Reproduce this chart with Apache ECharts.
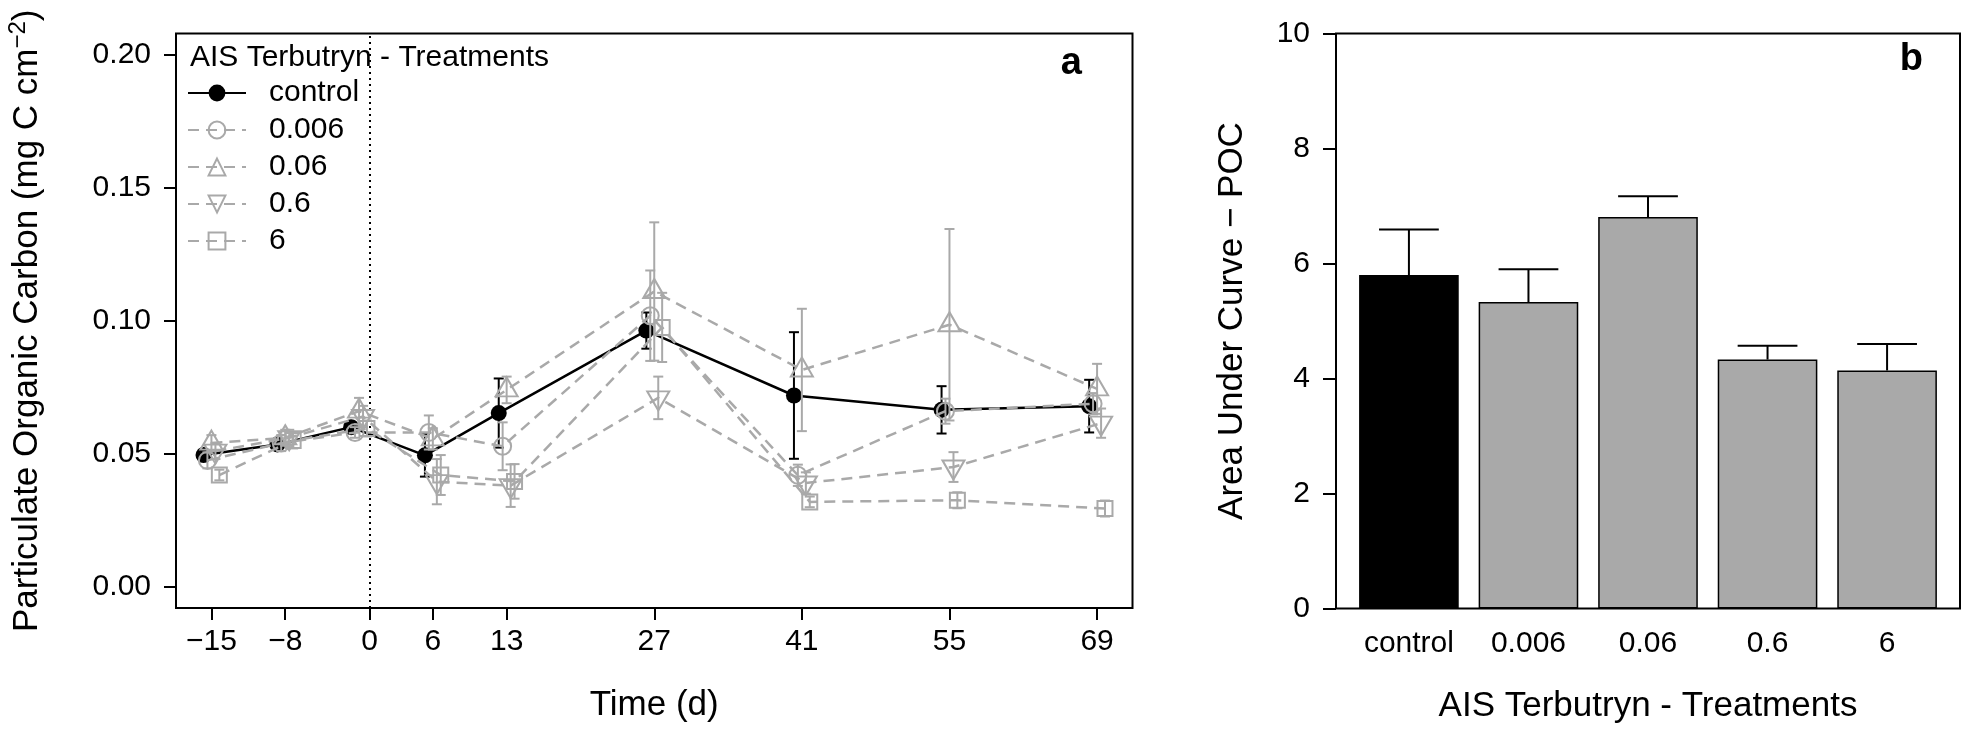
<!DOCTYPE html>
<html><head><meta charset="utf-8">
<script src="https://cdn.jsdelivr.net/npm/echarts@6/dist/echarts.min.js"></script>
<style>html,body{margin:0;padding:0;background:#fff}#c{width:1961px;height:732px}</style>
</head><body><div id="c"></div>
<script>
// ---------- data: panel a (POC over time) ----------
const tickDays   = [-15, -8, 0, 6, 13, 27, 41, 55, 69];
const sampleDays = [-15, -8, -1, 6, 13, 27, 41, 55, 69];
const treatments = ['control', '0.006', '0.06', '0.6', '6'];

const controlMean = [0.0495, 0.0535, 0.0600, 0.0494, 0.0653, 0.0963, 0.0719, 0.0665, 0.0679];
const controlSE   = [0.0020, 0.0020, 0.0020, 0.0080, 0.0130, 0.0068, 0.0238, 0.0089, 0.0099];
const t0006Mean   = [0.0475, 0.0540, 0.0580, 0.0580, 0.0528, 0.1019, 0.0419, 0.0660, 0.0688];
const t0006SE     = [0.0030, 0.0030, 0.0020, 0.0064, 0.0090, 0.0170, 0.0040, 0.0047, 0.0040];
const t006Mean    = [0.0540, 0.0560, 0.0660, 0.0556, 0.0740, 0.1110, 0.0815, 0.0985, 0.0744];
const t006SE      = [0.0030, 0.0030, 0.0050, 0.0040, 0.0050, 0.0260, 0.0230, 0.0360, 0.0094];
const t06Mean     = [0.0510, 0.0560, 0.0640, 0.0395, 0.0380, 0.0710, 0.0390, 0.0450, 0.0615];
const t06SE       = [0.0030, 0.0030, 0.0040, 0.0085, 0.0080, 0.0080, 0.0040, 0.0056, 0.0055];
const t6Mean      = [0.0420, 0.0550, 0.0595, 0.0420, 0.0396, 0.0975, 0.0319, 0.0325, 0.0294];
const t6SE        = [0.0020, 0.0030, 0.0030, 0.0075, 0.0065, 0.0130, 0.0020, 0.0030, 0.0030];
const yTicksA     = [0, 0.05, 0.10, 0.15, 0.20];

// ---------- data: panel b (area under curve) ----------
const aucCategories = ['control', '0.006', '0.06', '0.6', '6'];
const aucMean       = [5.80, 5.33, 6.81, 4.33, 4.14];
const aucSE         = [0.79, 0.57, 0.36, 0.24, 0.46];
const yTicksB       = [0, 2, 4, 6, 8, 10];

// ---------- styles ----------
const FONT = '"Liberation Sans", Arial, Helvetica, sans-serif';
const GRAY = '#a9a9a9';
const means = [controlMean, t0006Mean, t006Mean, t06Mean, t6Mean];
const ses   = [controlSE, t0006SE, t006SE, t06SE, t6SE];
const dodge = [-0.75, -0.38, 0, 0.38, 0.75];
const look = [
  {color:'#000', symbol:'circle',   size:16,      rotate:0,   offset:[0,0],  fill:'#000', line:'solid', lw:2.5},
  {color:GRAY,  symbol:'circle',   size:17,      rotate:0,   offset:[0,0],  fill:'rgba(0,0,0,0)', line:[11,7], lw:2.5},
  {color:GRAY,  symbol:'triangle', size:[22,19], rotate:0,   offset:[0,-3], fill:'rgba(0,0,0,0)', line:[11,7], lw:2.5},
  {color:GRAY,  symbol:'triangle', size:[22,19], rotate:180, offset:[0,3],  fill:'rgba(0,0,0,0)', line:[11,7], lw:2.5},
  {color:GRAY,  symbol:'rect',     size:15,      rotate:0,   offset:[0,0],  fill:'rgba(0,0,0,0)', line:[11,7], lw:2.5}
];

// panel b geometry (bar layout in barplot units)
const BX_MIN = -0.032, BX_MAX = 6.232, GRID_B_W = 624;
const barPos = aucCategories.map((_, i) => 0.7 + 1.2 * i);
const BAR_PX = GRID_B_W / (BX_MAX - BX_MIN);

function errRender(color, capHalf, upOnly) {
  return function (params, api) {
    const x = api.value(0);
    const lo = api.coord([x, api.value(1)]);
    const hi = api.coord([x, api.value(2)]);
    const st = {stroke: color, lineWidth: 2};
    const ch = typeof capHalf === 'function' ? capHalf() : capHalf;
    const kids = [
      {type:'line', shape:{x1:lo[0], y1:lo[1], x2:hi[0], y2:hi[1]}, style:st},
      {type:'line', shape:{x1:hi[0]-ch, y1:hi[1], x2:hi[0]+ch, y2:hi[1]}, style:st}
    ];
    if (!upOnly) kids.push({type:'line', shape:{x1:lo[0]-ch, y1:lo[1], x2:lo[0]+ch, y2:lo[1]}, style:st});
    return {type:'group', children:kids};
  };
}

const series = [];
treatments.forEach((name, k) => {
  const L = look[k];
  series.push({
    type:'custom', name: name + ' SE', xAxisIndex:0, yAxisIndex:0, silent:true, z: 2 + 2*k,
    data: sampleDays.map((d, i) => [d + dodge[k], means[k][i] - ses[k][i], means[k][i] + ses[k][i]]),
    encode:{x:0, y:[1,2]},
    renderItem: errRender(L.color, 5, false)
  });
  const s = {
    type:'line', name: name, xAxisIndex:0, yAxisIndex:0, z: 3 + 2*k,
    data: sampleDays.map((d, i) => [d + dodge[k], means[k][i]]),
    symbol: L.symbol, symbolSize: L.size, symbolRotate: L.rotate, symbolOffset: L.offset,
    showSymbol: true, showAllSymbol: true,
    lineStyle: {color: L.color, width: L.lw, type: L.line},
    itemStyle: {color: L.fill, borderColor: L.color, borderWidth: k === 0 ? 0 : 2},
    emphasis: {disabled: true}
  };
  if (k === 0) {
    s.markLine = {
      silent:true, symbol:['none','none'], label:{show:false},
      lineStyle:{type:[2,4], color:'#000', width:2},
      data:[{xAxis: tickDays[2]}]
    };
  }
  series.push(s);
});

series.push({
  type:'bar', name:'AUC', xAxisIndex:1, yAxisIndex:1, barWidth: BAR_PX, z:2,
  data: aucMean.map((v, i) => ({value:[barPos[i], v], itemStyle:{color: i === 0 ? '#000' : GRAY}})),
  itemStyle:{borderColor:'#000', borderWidth:1.5},
  emphasis:{disabled:true}
});
series.push({
  type:'custom', name:'AUC SE', xAxisIndex:1, yAxisIndex:1, silent:true, z:5,
  data: aucMean.map((v, i) => [barPos[i], v, v + aucSE[i]]),
  encode:{x:0, y:[1,2]},
  renderItem: errRender('#000', BAR_PX * 0.3, true)
});

const minus = v => (v < 0 ? '\u2212' + (-v) : String(v));
const axTxt = {color:'#000', fontFamily:FONT, fontSize:30};
const nameTxt = {color:'#000', fontFamily:FONT, fontSize:35};

const option = {
  animation:false,
  backgroundColor:'#fff',
  textStyle:{fontFamily:FONT},
  title:[
    {text:'AIS Terbutryn - Treatments', left:190, top:43, padding:0,
     textStyle:{fontSize:30, lineHeight:30, fontWeight:'normal', color:'#000', fontFamily:FONT}},
    {text:'a', right:879, top:45, padding:0, textStyle:{fontSize:38, lineHeight:38, fontWeight:'bold', color:'#000', fontFamily:FONT}},
    {text:'b', right:38, top:41, padding:0, textStyle:{fontSize:38, lineHeight:38, fontWeight:'bold', color:'#000', fontFamily:FONT}}
  ],
  legend:{
    data: treatments, orient:'vertical', left:187, top:78, padding:0,
    itemWidth:58, itemHeight:21, itemGap:7, selectedMode:false,
    formatter: n => '{t|' + n + '}',
    textStyle:{color:'#000', fontFamily:FONT, fontSize:30, lineHeight:30,
      rich:{t:{fontSize:30, lineHeight:30, padding:[0,0,0,18], color:'#000', fontFamily:FONT}}}
  },
  grid:[
    {left:176, top:33.5, width:956.5, height:574.5, show:true, borderColor:'#000', borderWidth:2, backgroundColor:'rgba(0,0,0,0)'},
    {left:1336, top:33.5, width:GRID_B_W, height:575, show:true, borderColor:'#000', borderWidth:2, backgroundColor:'rgba(0,0,0,0)'}
  ],
  xAxis:[
    {type:'value', gridIndex:0, min:-18.36, max:72.36,
     axisLine:{show:false, onZero:false}, splitLine:{show:false},
     axisTick:{show:true, customValues: tickDays, length:12, inside:false, lineStyle:{color:'#000', width:2}},
     axisLabel:{customValues: tickDays, formatter: v => minus(v), margin:19, ...axTxt},
     name:'Time (d)', nameLocation:'middle', nameGap:80, nameTextStyle:nameTxt},
    {type:'value', gridIndex:1, min:BX_MIN, max:BX_MAX,
     axisLine:{show:false, onZero:false}, splitLine:{show:false},
     axisTick:{show:false},
     axisLabel:{customValues: barPos, formatter: v => aucCategories[Math.round((v - 0.7) / 1.2)], margin:20, ...axTxt},
     name:'AIS Terbutryn - Treatments', nameLocation:'middle', nameGap:80, nameTextStyle:nameTxt}
  ],
  yAxis:[
    {type:'value', gridIndex:0, min:-0.008, max:0.208,
     axisLine:{show:false, onZero:false}, splitLine:{show:false},
     axisTick:{show:true, customValues: yTicksA, length:12, inside:false, lineStyle:{color:'#000', width:2}},
     axisLabel:{customValues: yTicksA, formatter: v => v.toFixed(2), margin:25, ...axTxt},
     name:'{m|Particulate Organic Carbon (mg C cm}{s|\u22122}{m|)}',
     nameLocation:'middle', nameGap:131,
     nameTextStyle:{...nameTxt, rich:{
        m:{fontSize:35, color:'#000', fontFamily:FONT, padding:[4,0,0,0]},
        s:{fontSize:24, color:'#000', fontFamily:FONT, verticalAlign:'top'}}}},
    {type:'value', gridIndex:1, min:0, max:10, interval:2,
     axisLine:{show:false, onZero:false}, splitLine:{show:false},
     axisTick:{show:true, customValues: yTicksB, length:13, inside:false, lineStyle:{color:'#000', width:2}},
     axisLabel:{customValues: yTicksB, margin:26, ...axTxt},
     name:'Area Under Curve \u2212 POC', nameLocation:'middle', nameGap:86, nameTextStyle:nameTxt}
  ],
  series: series
};

const chart = echarts.init(document.getElementById('c'), null, {renderer:'canvas'});
chart.setOption(option);
</script></body></html>
